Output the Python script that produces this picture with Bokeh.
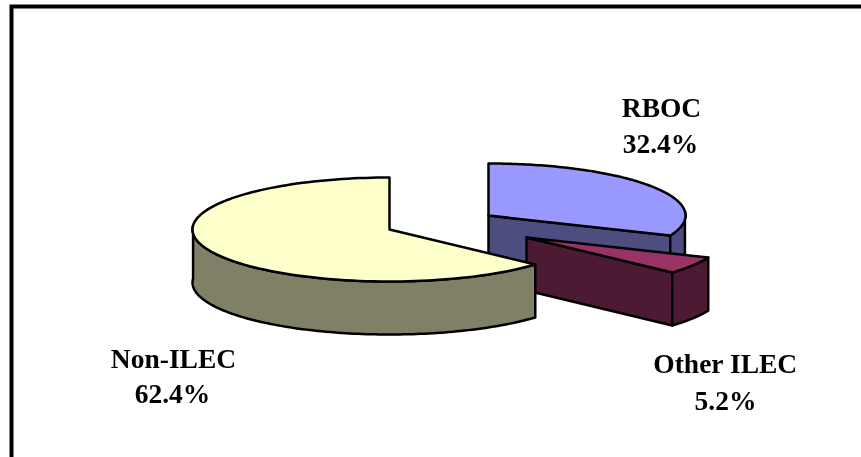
import numpy as np
from bokeh.plotting import figure
from bokeh.models import Range1d, ColumnDataSource
from bokeh.core.properties import value
from bokeh.embed import file_html
from bokeh.resources import INLINE

categories = ["RBOC", "Other ILEC", "Non-ILEC"]
shares = [32.4, 5.2, 62.4]
top_colors = ["#9999FF", "#993366", "#FFFFCC"]
side_colors = ["#4D4D80", "#4D1A33", "#808066"]

# layout of the projected pie (screen units)
W, H = 861, 457
RX, RY, DEPTH = 197.0, 52.0, 53.0
apexes = [(488.0, 215.0), (526.0, 237.0), (389.0, 229.0)]
label_pos = [(661, 107, 660, 143), (725, 363, 725, 400), (173, 358, 172, 393)]

p = figure(width=W, height=H, output_backend="svg", toolbar_location=None,
           x_range=Range1d(0, W), y_range=Range1d(H, 0), min_border=0)
p.axis.visible = False
p.grid.visible = False
p.outline_line_color = None
p.styles = {"position": "fixed", "left": "0px", "top": "0px"}

# frame, cut off by the right and bottom of the page
p.line([11, 11, W + 5], [H + 5, 6, 6], line_color="black", line_width=4,
       line_join="miter")


def warp(deg):
    return deg - 4.4 * np.sin(np.radians(deg))


def arc(cx, cy, a, b, n=120):
    t = np.radians(warp(np.linspace(a, b, n)))
    return cx + RX * np.sin(t), cy - RY * np.cos(t)


def face(xs, ys, color):
    p.patch(list(xs), list(ys), fill_color=color, line_color="black",
            line_width=2.5, line_join="round")


edges = np.concatenate([[0], np.cumsum(shares)]) * 3.6
for i, name in enumerate(categories):
    a, b = float(edges[i]), float(edges[i + 1])
    cx, cy = apexes[i]
    if 0 < b < 180:
        ex, ey = arc(cx, cy, b, b, 1)
        face([cx, ex[0], ex[0], cx], [cy, ey[0], ey[0] + DEPTH, cy + DEPTH], side_colors[i])
    lo, hi = max(a, 90.0), min(b, 270.0)
    if lo < hi:
        wx, wy = arc(cx, cy, lo, hi)
        face(np.concatenate([wx, wx[::-1]]), np.concatenate([wy, wy[::-1] + DEPTH]), side_colors[i])
    tx, ty = arc(cx, cy, a, b)
    face(np.concatenate([[cx], tx]), np.concatenate([[cy], ty]), top_colors[i])

rows = {"x": [], "y": [], "t": []}
for i, name in enumerate(categories):
    x1, y1, x2, y2 = label_pos[i]
    rows["x"] += [x1, x2]
    rows["y"] += [y1, y2]
    rows["t"] += [name, f"{shares[i]:.1f}%"]
p.text("x", "y", text="t", source=ColumnDataSource(rows), text_font=value("Liberation Serif"),
       text_font_style="bold", text_font_size="27.5px", text_align="center",
       text_baseline="middle", text_color="black")

open("out.html", "w").write(file_html(p, INLINE))
